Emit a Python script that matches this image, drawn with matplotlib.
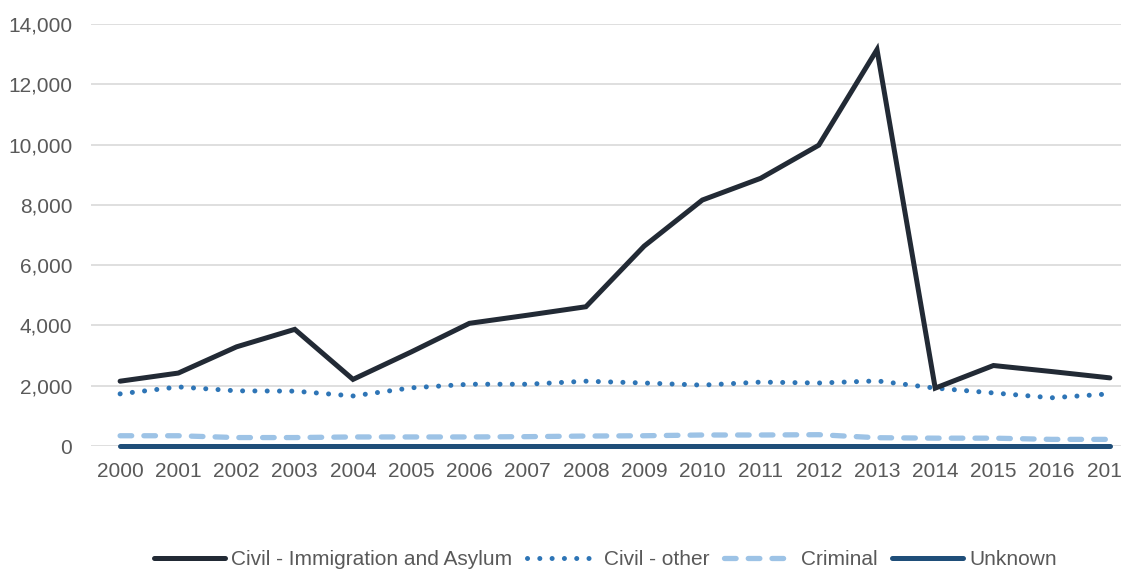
import matplotlib
matplotlib.use("Agg")
import matplotlib.pyplot as plt

# ---------- DATA ----------
years = [str(y) for y in range(2000, 2018)]
immigration = [2150, 2420, 3290, 3870, 2210, 3120, 4070, 4340, 4620, 6630,
               8160, 8880, 9980, 13150, 1920, 2670, 2470, 2260]
civil_other = [1730, 1960, 1830, 1820, 1660, 1930, 2050, 2050, 2150, 2090,
               2020, 2120, 2090, 2160, 1920, 1760, 1600, 1730]
criminal = [340, 340, 280, 280, 300, 300, 300, 310, 330, 340,
            365, 365, 375, 275, 260, 260, 220, 220]
unknown = [10] * 18

plt.rcParams["font.family"] = ["Liberation Sans", "DejaVu Sans"]

# ---------- PLOT ----------
fig = plt.figure(figsize=(11.21, 5.70), dpi=100)
ax = fig.add_axes([91 / 1121, 124 / 570, 1048 / 1121, 422 / 570])

x = list(range(len(years)))
ax.plot(x, immigration, color="#222a35", lw=3.6, solid_capstyle="round",
        solid_joinstyle="miter", label="Civil - Immigration and Asylum", zorder=4,
        clip_on=False)
ax.plot(x, civil_other, color="#2e75b6", lw=3.6, linestyle=(0, (0.01, 2.45)),
        dash_capstyle="round", label="Civil - other", zorder=3, clip_on=False)
ax.plot(x, criminal, color="#9dc3e6", lw=3.8, linestyle=(0, (2.2, 2.3)),
        dash_capstyle="round", label="Criminal", zorder=3, clip_on=False)
ax.plot(x, unknown, color="#1f4e79", lw=3.6, solid_capstyle="round",
        label="Unknown", zorder=3, clip_on=False)

ax.set_xlim(-0.5, 17.5)
ax.set_ylim(0, 14000)
ax.set_yticks(range(0, 14001, 2000))
ax.set_yticklabels([f"{v:,}" for v in range(0, 14001, 2000)])
ax.set_xticks(x)
ax.set_xticklabels(years)
ax.grid(True, axis="y", color="#d9d9d9", lw=1.2)
ax.set_axisbelow(True)
for s in ax.spines.values():
    s.set_visible(False)
ax.tick_params(length=0, labelsize=15, colors="#595959")
ax.tick_params(axis="x", pad=11.5)
ax.tick_params(axis="y", pad=13.5)

fig.legend(loc="center", bbox_to_anchor=(0.54, 0.018), ncol=4, frameon=False,
           fontsize=15, handlelength=3.4, handletextpad=0.3, columnspacing=0.7,
           labelcolor="#595959")

fig.savefig("out.png", dpi=100)
